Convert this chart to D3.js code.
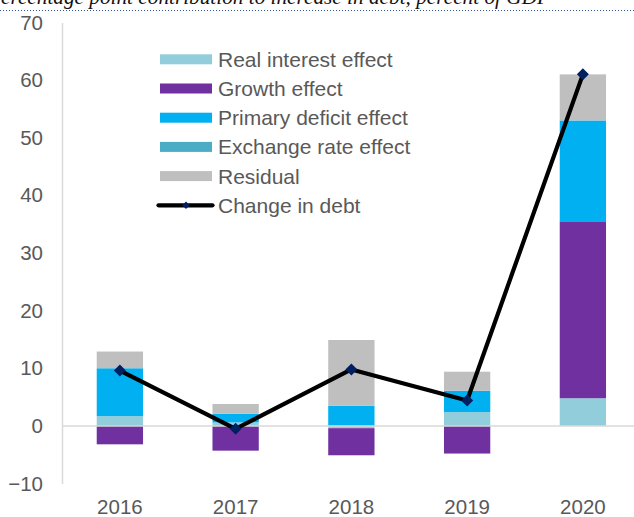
<!DOCTYPE html>
<html>
<head>
<meta charset="utf-8">
<script src="https://cdn.jsdelivr.net/npm/d3@7"></script>
<style>
  html, body { margin: 0; padding: 0; background: #fff; overflow: hidden; }
  svg { display: block; }
</style>
</head>
<body>
<script>
// ---- data ----
const years = ["2016", "2017", "2018", "2019", "2020"];
const realInterest   = [1.7, 0.6, -0.4, 2.4, 4.8];
const growthEffect   = [-3.2, -4.3, -4.7, -4.8, 30.7];
const primaryDeficit = [8.3, 1.5, 3.5, 3.7, 17.5];
const exchangeRate   = [0, 0, 0, 0, 0];
const residual       = [2.9, 1.7, 11.4, 3.3, 8.0];
const changeInDebt   = [9.6, -0.5, 9.8, 4.4, 61.0];
const yTicks = [-10, 0, 10, 20, 30, 40, 50, 60, 70];
const seriesNames = ["Real interest effect", "Growth effect", "Primary deficit effect", "Exchange rate effect", "Residual"];
const lineName = "Change in debt";
const titleText = "Percentage point contribution to increase in debt, percent of GDP";

const colors = ["#92CDDC", "#7030A0", "#00B0F0", "#4BACC6", "#BFBFBF"];

const W = 634, H = 517;
const svg = d3.select("body").append("svg").attr("width", W).attr("height", H);

// title (cut off at top)
svg.append("text")
  .attr("x", -12).attr("y", 4)
  .attr("textLength", 562).attr("lengthAdjust", "spacingAndGlyphs")
  .style("font-family", "'Liberation Serif', serif")
  .style("font-style", "italic")
  .style("font-size", "20px")
  .attr("fill", "#111")
  .text(titleText);

svg.append("line")
  .attr("x1", 0).attr("x2", W).attr("y1", 10.5).attr("y2", 10.5)
  .attr("stroke", "#2F5597").attr("stroke-width", 1)
  .attr("stroke-dasharray", "1,2");

// scales
const x = d3.scaleBand().domain(years).range([62, 62 + 115.75 * 5]).paddingInner(0.6).paddingOuter(0.3);
const y = d3.scaleLinear().domain([-10, 70]).range([483.5, 22.5]);

// stack data
const table = years.map((yr, i) => ({
  year: yr,
  s0: realInterest[i], s1: growthEffect[i], s2: primaryDeficit[i], s3: exchangeRate[i], s4: residual[i]
}));
const stack = d3.stack().keys(["s0", "s1", "s2", "s3", "s4"]).offset(d3.stackOffsetDiverging);
const stacked = stack(table);

// bars
svg.append("g").selectAll("g").data(stacked).join("g")
  .attr("fill", (d, i) => colors[i])
  .selectAll("rect").data(d => d).join("rect")
  .attr("x", d => x(d.data.year))
  .attr("width", x.bandwidth())
  .attr("y", d => y(Math.max(d[0], d[1])))
  .attr("height", d => Math.abs(y(d[0]) - y(d[1])));

// zero line
svg.append("line")
  .attr("x1", 62).attr("x2", W).attr("y1", y(0)).attr("y2", y(0))
  .attr("stroke", "#D9D9D9").attr("stroke-width", 1.5);

// y axis
const yAxis = d3.axisLeft(y).tickValues(yTicks).tickSize(0).tickPadding(19);
const gy = svg.append("g").attr("transform", "translate(62,0)").call(yAxis);
gy.select(".domain").attr("stroke", "#D9D9D9").attr("stroke-width", 1.5);
gy.selectAll("text")
  .style("font-family", "'Liberation Sans', Arial, sans-serif")
  .style("font-size", "20.5px")
  .attr("fill", "#595959");

// x axis labels
const xAxis = d3.axisBottom(x).tickSize(0).tickPadding(0);
const gx = svg.append("g").attr("transform", "translate(0,499)").call(xAxis);
gx.select(".domain").remove();
gx.selectAll("text")
  .attr("dy", "0.71em")
  .style("font-family", "'Liberation Sans', Arial, sans-serif")
  .style("font-size", "20.5px")
  .attr("fill", "#595959");

// line
const cx = d => x(d) + x.bandwidth() / 2;
const line = d3.line().x((d, i) => cx(years[i])).y(d => y(d));
svg.append("path")
  .datum(changeInDebt)
  .attr("d", line)
  .attr("fill", "none")
  .attr("stroke", "#000")
  .attr("stroke-width", 4.2)
  .attr("stroke-linejoin", "round")
  .attr("stroke-linecap", "round");

const diamond = r => `M0,${-r}L${r},0L0,${r}L${-r},0Z`;
svg.append("g").selectAll("path").data(changeInDebt).join("path")
  .attr("transform", (d, i) => `translate(${cx(years[i])},${y(d)})`)
  .attr("d", diamond(6))
  .attr("fill", "#002060");

// legend
const lg = svg.append("g").attr("transform", "translate(160,59.3)");
const rowH = 29.2;
seriesNames.forEach((name, i) => {
  const g = lg.append("g").attr("transform", `translate(0,${i * rowH})`);
  g.append("rect").attr("x", 0).attr("y", -5).attr("width", 52).attr("height", 10).attr("fill", colors[i]);
  g.append("text").attr("x", 58).attr("y", 0).attr("dy", "0.36em")
    .style("font-family", "'Liberation Sans', Arial, sans-serif")
    .style("font-size", "21px")
    .attr("fill", "#595959")
    .text(name);
});
{
  const g = lg.append("g").attr("transform", `translate(0,${5 * rowH})`);
  g.append("line").attr("x1", -1.5).attr("x2", 52.5).attr("y1", 0).attr("y2", 0)
    .attr("stroke", "#000").attr("stroke-width", 4.2).attr("stroke-linecap", "round");
  g.append("path").attr("transform", "translate(26,0)").attr("d", diamond(3.8)).attr("fill", "#002060");
  g.append("text").attr("x", 58).attr("y", 0).attr("dy", "0.36em")
    .style("font-family", "'Liberation Sans', Arial, sans-serif")
    .style("font-size", "21px")
    .attr("fill", "#595959")
    .text(lineName);
}
</script>
</body>
</html>
